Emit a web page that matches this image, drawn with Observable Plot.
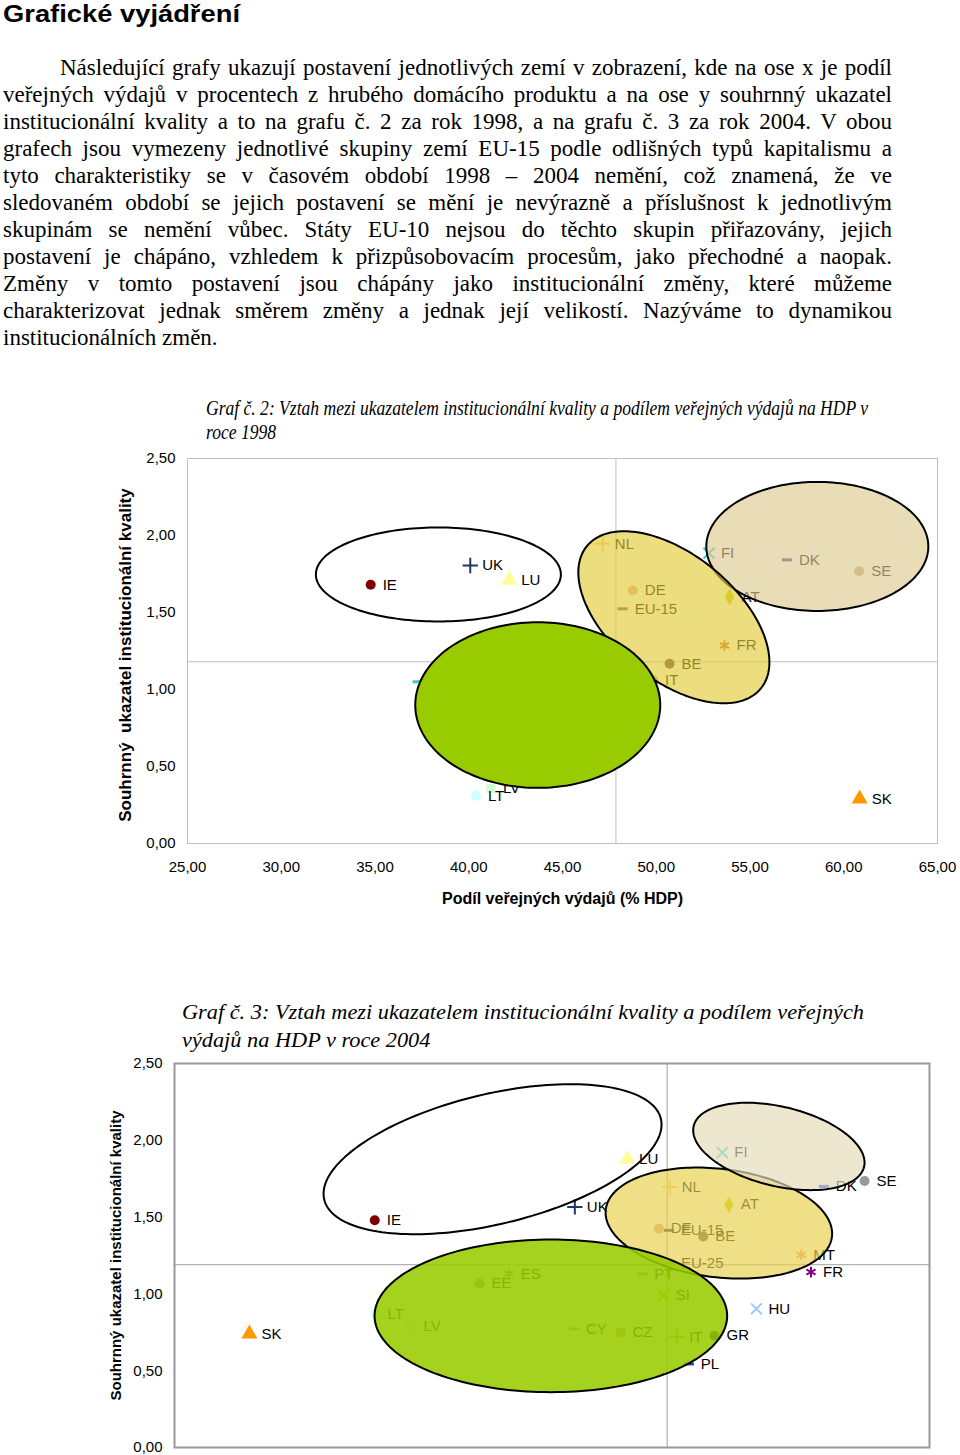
<!DOCTYPE html>
<html><head><meta charset="utf-8">
<script src="https://cdn.jsdelivr.net/npm/d3@7"></script>
<script src="https://cdn.jsdelivr.net/npm/@observablehq/plot@0.6"></script>
<style>
html,body{margin:0;padding:0;background:#fff;}
body{width:960px;height:1455px;overflow:hidden;position:relative;}
.abs{position:absolute;}
#heading{left:3px;top:0;font:bold 23px "Liberation Sans",Arial,sans-serif;line-height:28px;color:#000;white-space:nowrap;transform-origin:0 50%;}
#para{left:3px;top:54px;width:889px;font:23px "Liberation Serif","Times New Roman",serif;line-height:27px;color:#000;}
#para div{white-space:nowrap;}
.ttl{font-family:"Liberation Serif","Times New Roman",serif;font-style:italic;color:#000;}
.ttl div{white-space:nowrap;transform-origin:0 50%;}
#t1{left:206px;top:396px;font-size:20px;line-height:24px;}
#t2{left:182px;top:998px;font-size:21px;line-height:28px;}
#c1{left:0;top:440px;}
#c2{left:0;top:1045px;}
</style></head>
<body>
<div id="heading" class="abs">Grafické vyjádření</div>
<div id="para" class="abs">
<div data-indent="57">Následující grafy ukazují postavení jednotlivých zemí v zobrazení, kde na ose x je podíl</div>
<div>veřejných výdajů v procentech z hrubého domácího produktu a na ose y souhrnný ukazatel</div>
<div>institucionální kvality a to na grafu č. 2 za rok 1998, a na grafu č. 3 za rok 2004. V obou</div>
<div>grafech jsou vymezeny jednotlivé skupiny zemí EU-15 podle odlišných typů kapitalismu a</div>
<div>tyto charakteristiky se v časovém období 1998 – 2004 nemění, což znamená, že ve</div>
<div>sledovaném období se jejich postavení se mění je nevýrazně a příslušnost k jednotlivým</div>
<div>skupinám se nemění vůbec. Státy EU-10 nejsou do těchto skupin přiřazovány, jejich</div>
<div>postavení je chápáno, vzhledem k přizpůsobovacím procesům, jako přechodné a naopak.</div>
<div>Změny v tomto postavení jsou chápány jako institucionální změny, které můžeme</div>
<div>charakterizovat jednak směrem změny a jednak její velikostí. Nazýváme to dynamikou</div>
<div data-last="1">institucionálních změn.</div>
</div>
<div id="t1" class="abs ttl"><div id="t1a">Graf č. 2: Vztah mezi ukazatelem institucionální kvality a podílem veřejných výdajů na HDP v</div><div>roce 1998</div></div>
<div id="t2" class="abs ttl"><div id="t2a">Graf č. 3: Vztah mezi ukazatelem institucionální kvality a podílem veřejných</div><div>výdajů na HDP v roce 2004</div></div>
<div id="c1" class="abs"></div>
<div id="c2" class="abs"></div>
<script>
// ---------- data ----------
const xTicks = [25, 30, 35, 40, 45, 50, 55, 60, 65];
const yTicks = [0, 0.5, 1, 1.5, 2, 2.5];
const xLabel = "Podíl veřejných výdajů (% HDP)";
const yLabel1 = "Souhrnný  ukazatel institucionální kvality";
const yLabel2 = "Souhrnný ukazatel institucionální kvality";

// 1998
const countries1998 = ["IE","UK","LU","LT","LV","EE","PT","NL","DE","EU-15","FI","DK","SE","AT","FR","BE","IT","SK"];
const spend1998     = [34.77,40.08,42.16,40.38,41.18,37.27,43.48,47.15,48.75,48.21,52.81,56.97,60.82,53.91,53.64,50.71,49.83,60.85];
const quality1998   = [1.68,1.805,1.71,0.31,0.357,1.05,1.383,1.946,1.643,1.524,1.885,1.842,1.768,1.60,1.286,1.167,1.058,0.29];
const meanX1998 = 47.85, meanY1998 = 1.18;

// 2004
const countries2004 = ["IE","SK","UK","LU","FI","SE","DK","NL","AT","DE","EU-15","BE","EU-25","MT","FR","HU","PL","GR","IT","PT","SI","CY","CZ","EE","ES","LT","LV"];
const spend2004     = [35.61,28.97,46.21,48.98,54.02,61.56,59.40,51.24,54.37,50.66,51.19,53.01,51.20,58.20,58.72,55.83,52.25,53.61,51.63,49.78,50.92,46.16,48.63,41.16,42.71,35.65,37.56];
const quality2004   = [1.479,0.74,1.566,1.877,1.92,1.735,1.70,1.696,1.581,1.425,1.414,1.374,1.20,1.255,1.142,0.903,0.544,0.728,0.72,1.131,0.99,0.772,0.75,1.068,1.131,0.87,0.79];
const meanX2004 = 51.1, meanY2004 = 1.19;

// ---------- styles ----------
const style1998 = {
  "IE":["circle","#800000"],"UK":["plus","#1f3864"],"LU":["triangle","#ffff99"],"LT":["circle","#ccffff"],
  "LV":["square","#ccffcc"],"EE":["dash","#33cccc"],"PT":["dash","#33cc66"],"NL":["plus","#ffcc66"],
  "DE":["circle","#e8b090"],"EU-15":["dash","#6b5a3a"],"FI":["times","#33cccc"],"DK":["dash","#333399"],
  "SE":["circle","#c4a484"],"AT":["diamond","#cccc00"],"FR":["asterisk","#cc6633"],"BE":["circle","#5a3d3d"],
  "IT":["circle","#999966"],"SK":["triangle","#ff9900"]
};
const style2004 = {
  "IE":["circle","#800000"],"SK":["triangle","#ff9900"],"UK":["plus","#1f3864"],"LU":["triangle","#ffff99"],
  "FI":["times","#33ccbb"],"SE":["circle","#999999"],"DK":["dash","#3333cc"],"NL":["plus","#ffcc66"],
  "AT":["diamond","#cccc00"],"DE":["circle","#e8a090"],"EU-15":["dash","#333333"],"BE":["circle","#555555"],
  "EU-25":["dash","#996633"],"MT":["asterisk","#ff9966"],"FR":["asterisk","#800080"],"HU":["times","#99ccff"],
  "PL":["dash","#3333cc"],"GR":["circle","#000080"],"IT":["plus","#66cc33"],"PT":["dash","#33cc66"],
  "SI":["times","#cccc00"],"CY":["dash","#33cc33"],"CZ":["square","#cc9966"],"EE":["circle","#888888"],
  "ES":["asterisk","#888888"],"LT":["circle","#ccffff"],"LV":["square","#ccffcc"]
};

// ellipses: centre in data units, semi-axes in px, rotation (deg, clockwise on screen)
const groups1998 = [
  {cx:38.38, cy:1.747, a:122.5, b:47,   angle:0,    fill:"none",    op:0},
  {cx:58.59, cy:1.929, a:111,   b:64.5, angle:0,    fill:"#dccb90", op:0.65},
  {cx:50.94, cy:1.469, a:112.4, b:62.4, angle:39.3, fill:"#e2cb3a", op:0.65},
  {cx:43.68, cy:0.899, a:122.5, b:82.8, angle:0,    fill:"#99cc00", op:1}
];
const groups2004 = [
  {cx:41.85, cy:1.877, a:173.1, b:65,   angle:-13.5, fill:"none",   op:0},
  {cx:53.84, cy:1.461, a:113.9, b:54.2, angle:6.9,  fill:"#e8d150", op:0.68},
  {cx:57.02, cy:1.960, a:87.6,  b:39.7, angle:13.5, fill:"#e5dcba", op:0.68},
  {cx:44.94, cy:0.857, a:176.3, b:76.3, angle:0,    fill:"#99cc00", op:0.88}
];

// ---------- helpers ----------
const fmt = d => d.toFixed(2).replace(".", ",");
const dashSymbol = {draw(ctx, size){ ctx.rect(-5, -1.5, 10, 3); }};
const FONT = '"Liberation Sans", Arial, sans-serif';

function rows(countries, xs, ys, st){
  return countries.map((c,i)=>({name:c, x:xs[i], y:ys[i], sym:st[c][0], color:st[c][1]}));
}
function dotMarks(data){
  const out = [];
  for (const sym of ["circle","triangle","diamond","square","dash","plus","times","asterisk"]) {
    const sub = data.filter(d => d.sym === sym);
    if (!sub.length) continue;
    const stroked = ["plus","times","asterisk"].includes(sym);
    const opts = {x:"x", y:"y", symbol: sym === "dash" ? dashSymbol : sym, r: sym === "triangle" ? 6 : 5};
    if (stroked) { opts.stroke = "color"; opts.strokeWidth = 2; opts.fill = "none"; }
    else { opts.fill = "color"; opts.stroke = "none"; }
    out.push(Plot.dot(sub, opts));
  }
  return out;
}
function ellipseMarks(groups, pxPerX, pxPerY){
  return groups.map(e => {
    const th = e.angle * Math.PI / 180, pts = [];
    for (let i = 0; i < 180; i++) {
      const t = i / 180 * 2 * Math.PI;
      const px = e.a*Math.cos(t)*Math.cos(th) - e.b*Math.sin(t)*Math.sin(th);
      const py = e.a*Math.cos(t)*Math.sin(th) + e.b*Math.sin(t)*Math.cos(th);
      pts.push({x: e.cx + px/pxPerX, y: e.cy - py/pxPerY});
    }
    return Plot.line(pts, {x:"x", y:"y", curve:"linear-closed", stroke:"#000", strokeWidth:2,
      fill: e.fill, fillOpacity: e.op});
  });
}

// ---------- chart 1 ----------
{
  const W = 960, H = 480, mL = 187, mR = 23, mT = 18, mB = 77;
  const pxX = (W - mL - mR) / (65 - 25), pxY = (H - mT - mB) / 2.5;
  const data = rows(countries1998, spend1998, quality1998, style1998);
  const chart = Plot.plot({
    width: W, height: H, marginLeft: mL, marginRight: mR, marginTop: mT, marginBottom: mB,
    x: {domain: [25, 65]}, y: {domain: [0, 2.5]}, color: {type: "identity"},
    style: {fontFamily: FONT, fontSize: "15px", background: "transparent", color: "#000", overflow: "visible"},
    marks: [
      Plot.frame({stroke: "#c0c0c0"}),
      Plot.ruleX([meanX1998], {stroke: "#c0c0c0"}),
      Plot.ruleY([meanY1998], {stroke: "#c0c0c0"}),
      Plot.axisX({ticks: xTicks, tickFormat: fmt, tickSize: 0, tickPadding: 18, label: null}),
      Plot.axisY({ticks: yTicks, tickFormat: fmt, tickSize: 0, tickPadding: 12, label: null}),
      Plot.text([xLabel], {frameAnchor: "bottom", dy: 55, lineAnchor: "middle", textAnchor: "middle", fontWeight: "bold", fontSize: 16}),
      Plot.text([yLabel1], {frameAnchor: "left", dx: -62, dy: 4, rotate: -90, textAnchor: "middle", lineAnchor: "middle", fontWeight: "bold", fontSize: 17}),
      ...dotMarks(data),
      Plot.text(data, {x: "x", y: "y", text: "name", dx: 12, textAnchor: "start", fontSize: 15, fill: "#000"}),
      ...ellipseMarks(groups1998, pxX, pxY)
    ]
  });
  document.getElementById("c1").appendChild(chart);
}

// ---------- chart 2 ----------
{
  const W = 960, H = 410, mL = 174, mR = 31, mT = 18, mB = 8;
  const pxX = (W - mL - mR) / (65 - 25), pxY = (H - mT - mB) / 2.5;
  const data = rows(countries2004, spend2004, quality2004, style2004);
  const chart = Plot.plot({
    width: W, height: H, marginLeft: mL, marginRight: mR, marginTop: mT, marginBottom: mB,
    x: {domain: [25, 65], axis: null}, y: {domain: [0, 2.5]}, color: {type: "identity"},
    style: {fontFamily: FONT, fontSize: "15px", background: "transparent", color: "#000", overflow: "visible"},
    marks: [
      Plot.ruleX([meanX2004], {stroke: "#a0a0a0"}),
      Plot.ruleY([meanY2004], {stroke: "#a0a0a0"}),
      Plot.axisY({ticks: yTicks, tickFormat: fmt, tickSize: 0, tickPadding: 12, label: null}),
      Plot.text([yLabel2], {frameAnchor: "left", dx: -58, rotate: -90, textAnchor: "middle", lineAnchor: "middle", fontWeight: "bold", fontSize: 15}),
      ...dotMarks(data),
      Plot.text(data, {x: "x", y: "y", text: "name", dx: 12, textAnchor: "start", fontSize: 15, fill: "#000"}),
      ...ellipseMarks(groups2004, pxX, pxY),
      Plot.frame({stroke: "#999", strokeWidth: 2})
    ]
  });
  document.getElementById("c2").appendChild(chart);
}

// ---------- text layout ----------
function fitTitle(firstId, parentId, target){
  const first = document.getElementById(firstId);
  first.style.display = "inline-block";
  const w = first.getBoundingClientRect().width;
  const k = target / w;
  for (const d of document.getElementById(parentId).children) d.style.transform = `scaleX(${k})`;
}
fitTitle("t1a","t1",662);
fitTitle("t2a","t2",682);

// heading width as in the reference
{
  const h = document.getElementById("heading");
  h.style.display = "inline-block";
  const w = h.getBoundingClientRect().width;
  h.style.transform = `scaleX(${237 / w})`;
}
// justify paragraph lines (fixed line breaks)
document.querySelectorAll("#para div").forEach(div => {
  const indent = +(div.dataset.indent || 0);
  div.style.paddingLeft = indent + "px";
  const text = div.textContent;
  div.innerHTML = "";
  const span = document.createElement("span");
  span.textContent = text;
  div.appendChild(span);
  if (div.dataset.last) return;
  const w = span.getBoundingClientRect().width;
  const spaces = (text.match(/ /g) || []).length;
  const target = 889 - indent;
  if (spaces) span.style.wordSpacing = ((target - w) / spaces) + "px";
});
</script>
</body></html>
